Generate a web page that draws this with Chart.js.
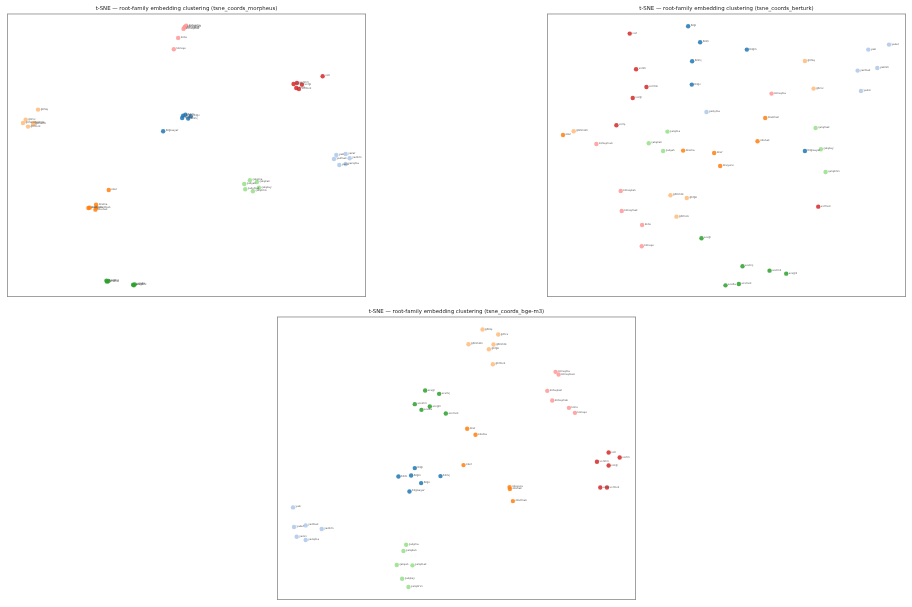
<!DOCTYPE html>
<html>
<head>
<meta charset="utf-8">
<script src="https://cdn.jsdelivr.net/npm/chart.js@4"></script>
<style>
  html, body { margin: 0; padding: 0; background: #fff; width: 912px; height: 607px; overflow: hidden; }
  canvas { position: absolute; }
</style>
</head>
<body>
<canvas id="c1" width="359" height="297" style="left:7px;top:0px;width:359px;height:297px;"></canvas>
<canvas id="c2" width="359" height="297" style="left:547px;top:0px;width:359px;height:297px;"></canvas>
<canvas id="c3" width="359" height="297" style="left:277px;top:303px;width:359px;height:297px;"></canvas>
<script>
// Root families (order = colour order)
const families = ['bil', 'yaz', 'oku', 'gör', 'sev', 'çalış', 'ver', 'konuş'];
const familyWords = [
  ['bilgi', 'bilim', 'bilgin', 'bilinç', 'bilge', 'bilgisayar'],
  ['yazı', 'yazar', 'yazmak', 'yazılım', 'yazıcı', 'yazışma'],
  ['okul', 'okuma', 'okur', 'okuyucu', 'okunak', 'okutman'],
  ['görüş', 'görev', 'görünüm', 'görüntü', 'görgü', 'görmek'],
  ['sevgi', 'sevinç', 'sevimli', 'sevgili', 'sevda', 'sevmek'],
  ['çalışma', 'çalışkan', 'çalışan', 'çalışmak', 'çalıştay', 'çalıştırıcı'],
  ['veri', 'verim', 'verimli', 'vergi', 'veriş', 'vermek'],
  ['konuşma', 'konuşmacı', 'konuşkan', 'konuşmak', 'konu', 'konuşu']
];
const familyColors = ['#1f77b4', '#aec7e8', '#ff7f0e', '#ffbb78', '#2ca02c', '#98df8a', '#d62728', '#ff9896'];

// t-SNE coordinates (arbitrary units, y grows downward)
const morpheusPts = [
  [[550,346],[557,343],[547,353],[565,355],[573,348],[490,393]],
  [[1009,464],[1037,461],[1002,476],[1049,474],[1018,494],[1037,491]],
  [[327,569],[289,613],[266,623],[270,622],[287,628],[290,622]],
  [[115,328],[78,358],[70,368],[100,371],[104,368],[85,379]],
  [[320,841],[326,842],[322,844],[400,853],[405,852],[402,855]],
  [[750,540],[771,545],[733,551],[736,567],[777,562],[759,573]],
  [[968,228],[881,251],[891,248],[906,253],[889,263],[897,266]],
  [[559,76],[555,80],[554,82],[551,86],[535,113],[522,147]]
];
const berturkPts = [
  [[445,78],[481,126],[621,148],[457,183],[456,253],[795,452]],
  [[985,148],[1047,133],[953,211],[1012,203],[963,272],[500,335]],
  [[70,404],[430,451],[523,458],[541,497],[653,423],[676,353]],
  [[795,182],[821,265],[102,393],[392,585],[441,593],[410,649]],
  [[485,714],[608,798],[689,811],[739,820],[557,855],[597,851]],
  [[383,394],[327,429],[370,452],[827,383],[843,447],[857,515]],
  [[270,100],[289,207],[320,260],[279,293],[230,375],[835,619]],
  [[695,280],[170,431],[243,572],[246,632],[307,674],[306,738]]
];
const bgeM3Pts = [
  [[435,488],[386,513],[424,510],[512,512],[454,533],[419,558]],
  [[70,606],[73,665],[108,660],[156,671],[81,694],[108,704]],
  [[592,370],[617,388],[581,479],[719,545],[720,551],[729,587]],
  [[638,72],[685,87],[596,116],[671,117],[657,131],[669,176]],
  [[466,255],[508,265],[435,296],[480,303],[455,313],[528,324]],
  [[409,718],[401,737],[381,779],[428,780],[397,820],[416,845]],
  [[1016,441],[1049,456],[981,469],[1016,480],[991,546],[1011,546]],
  [[857,199],[866,207],[832,256],[847,285],[897,307],[915,322]]
];
const panelNames = ['tsne_coords_morpheus', 'tsne_coords_berturk', 'tsne_coords_bge-m3'];
const panelXRange = [[22,1098],[22,1098],[22,1098]];
const panelYRange = [[40,890],[40,890],[33,884]];

function hexA(hex, a) {
  const n = parseInt(hex.slice(1), 16);
  return `rgba(${(n>>16)&255},${(n>>8)&255},${n&255},${a})`;
}

const framePlugin = {
  id: 'frame',
  afterDraw(chart) {
    const {ctx, chartArea: a} = chart;
    ctx.save();
    ctx.strokeStyle = '#8a8a8a';
    ctx.lineWidth = 0.8;
    ctx.strokeRect(a.left + 0.4, a.top + 0.4, a.right - a.left - 0.8, a.bottom - a.top - 0.8);
    ctx.restore();
  }
};
const labelPlugin = {
  id: 'pointLabels',
  afterDatasetsDraw(chart) {
    const ctx = chart.ctx;
    ctx.save();
    ctx.font = '2.6px "DejaVu Sans"';
    ctx.fillStyle = '#555';
    ctx.textBaseline = 'middle';
    chart.data.datasets.forEach((ds, di) => {
      const meta = chart.getDatasetMeta(di);
      meta.data.forEach((el, i) => {
        ctx.fillText(ds.words[i], el.x + 2.6, el.y - 0.6);
      });
    });
    ctx.restore();
  }
};

function makeChart(id, pts, p) {
  const datasets = pts.map((fam, f) => ({
    label: families[f],
    words: familyWords[f],
    data: fam.map(([x, y]) => ({x, y})),
    backgroundColor: hexA(familyColors[f], 0.85),
    borderWidth: 0,
    pointRadius: 2.2,
    pointHoverRadius: 2.2,
    clip: false
  }));
  new Chart(document.getElementById(id), {
    type: 'scatter',
    data: { datasets },
    options: {
      responsive: false,
      maintainAspectRatio: false,
      devicePixelRatio: 1,
      animation: false,
      events: [],
      layout: { padding: 0, autoPadding: false },
      plugins: {
        legend: { display: false },
        tooltip: { enabled: false },
        title: {
          display: true,
          text: 't-SNE — root-family embedding clustering (' + panelNames[p] + ')',
          color: '#222',
          font: { family: '"DejaVu Sans"', size: 5.4, weight: 'normal' },
          padding: { top: 5, bottom: 2.1 }
        }
      },
      scales: {
        x: { type: 'linear', display: false, min: panelXRange[p][0], max: panelXRange[p][1] },
        y: { type: 'linear', display: false, reverse: true, min: panelYRange[p][0], max: panelYRange[p][1] }
      }
    },
    plugins: [labelPlugin, framePlugin]
  });
}
makeChart('c1', morpheusPts, 0);
makeChart('c2', berturkPts, 1);
makeChart('c3', bgeM3Pts, 2);
</script>
</body>
</html>
